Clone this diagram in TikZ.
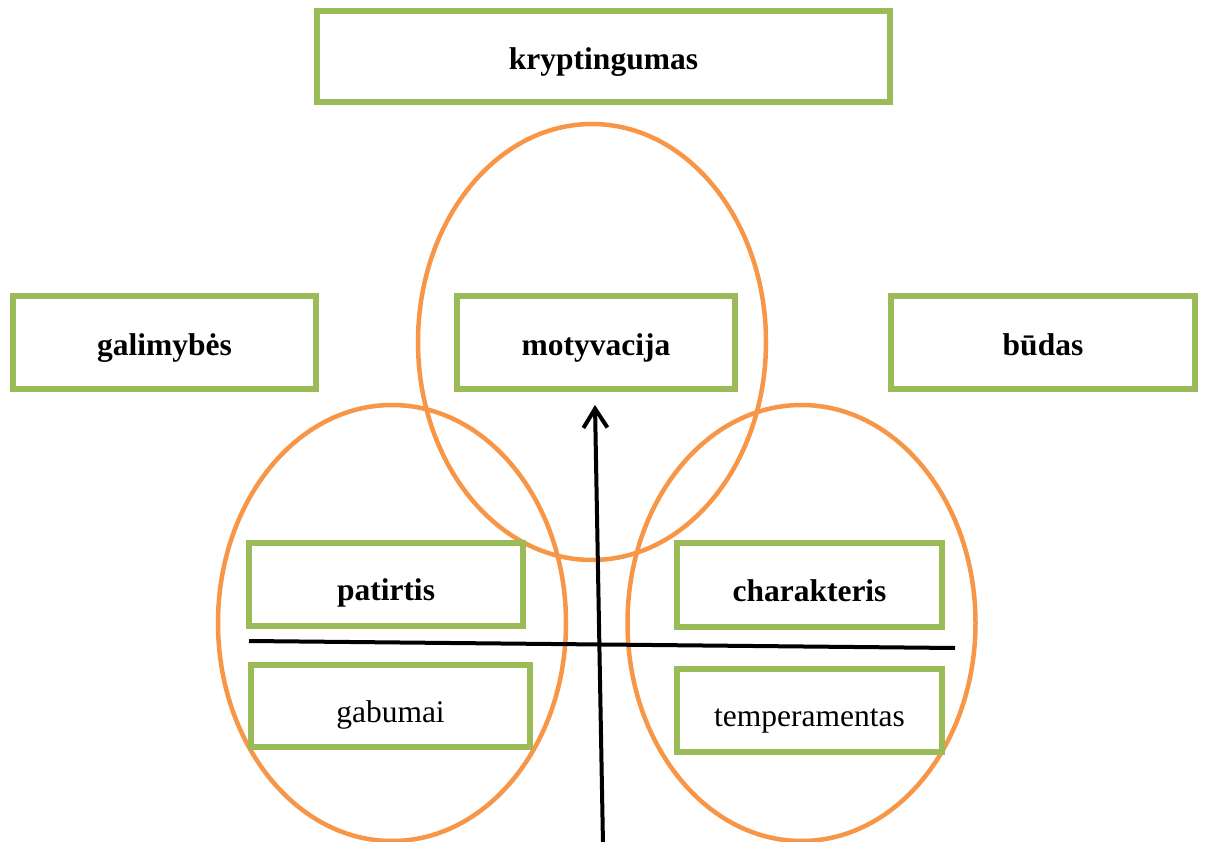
\documentclass[tikz,border=0pt]{standalone}
\usepackage{fontspec}
\setmainfont{Liberation Serif}
\usetikzlibrary{shapes.geometric,arrows.meta}
\definecolor{boxgreen}{HTML}{9BBB59}
\definecolor{ringorange}{HTML}{F79646}
\begin{document}
\begin{tikzpicture}[x=1pt,y=-1pt,
  ring/.style={ellipse,draw=ringorange,line width=4.5pt,inner sep=0pt,
    minimum width=348pt,minimum height=436pt},
  labelbox/.style={rectangle,draw=boxgreen,line width=5.5pt,inner sep=0pt,
    text height=26pt,text depth=0pt,
    font=\fontsize{31.5}{36}\selectfont},
  strong/.style={labelbox,font=\fontsize{31.5}{36}\selectfont\bfseries},
  lowtext/.style={text height=32pt},
  axis/.style={line width=4pt,black}]
\useasboundingbox (0,0) rectangle (1205,842);

% three overlapping ellipses
\node[ring] (left)  at (392,623) {};
\node[ring] (right) at (801.5,623) {};
\node[ring] (top)   at (592,342) {};

% boxes
\node[strong,minimum width=573pt,minimum height=91pt] (kr) at (603.5,56.5) {kryptingumas};
\node[strong,minimum width=303pt,minimum height=93pt] (gal) at (164.5,342.5) {galimybės};
\node[strong,minimum width=278pt,minimum height=93pt] (mot) at (596,342.5) {motyvacija};
\node[strong,minimum width=304pt,minimum height=93pt] (bud) at (1043,342.5) {būdas};
\node[strong,lowtext,minimum width=274pt,minimum height=83pt] (pat) at (386,584.5) {patirtis};
\node[strong,lowtext,minimum width=265pt,minimum height=84pt] (cha) at (809.5,585) {charakteris};
\node[labelbox,lowtext,minimum width=279pt,minimum height=82pt] (gab) at (390.5,706) {gabumai};
\node[labelbox,lowtext,minimum width=265pt,minimum height=83pt] (tem) at (809.5,710.5) {temperamentas};

% axes
\coordinate (hl) at (249,641);
\coordinate (hr) at (955,648);
\coordinate (vb) at (603,845);
\coordinate (vt) at (595,405);
\draw[axis] (hl) -- (hr);
\draw[axis,-{Straight Barb[length=19pt,width=24pt,line width=4pt]}] (vb) -- (vt);
\end{tikzpicture}
\end{document}
